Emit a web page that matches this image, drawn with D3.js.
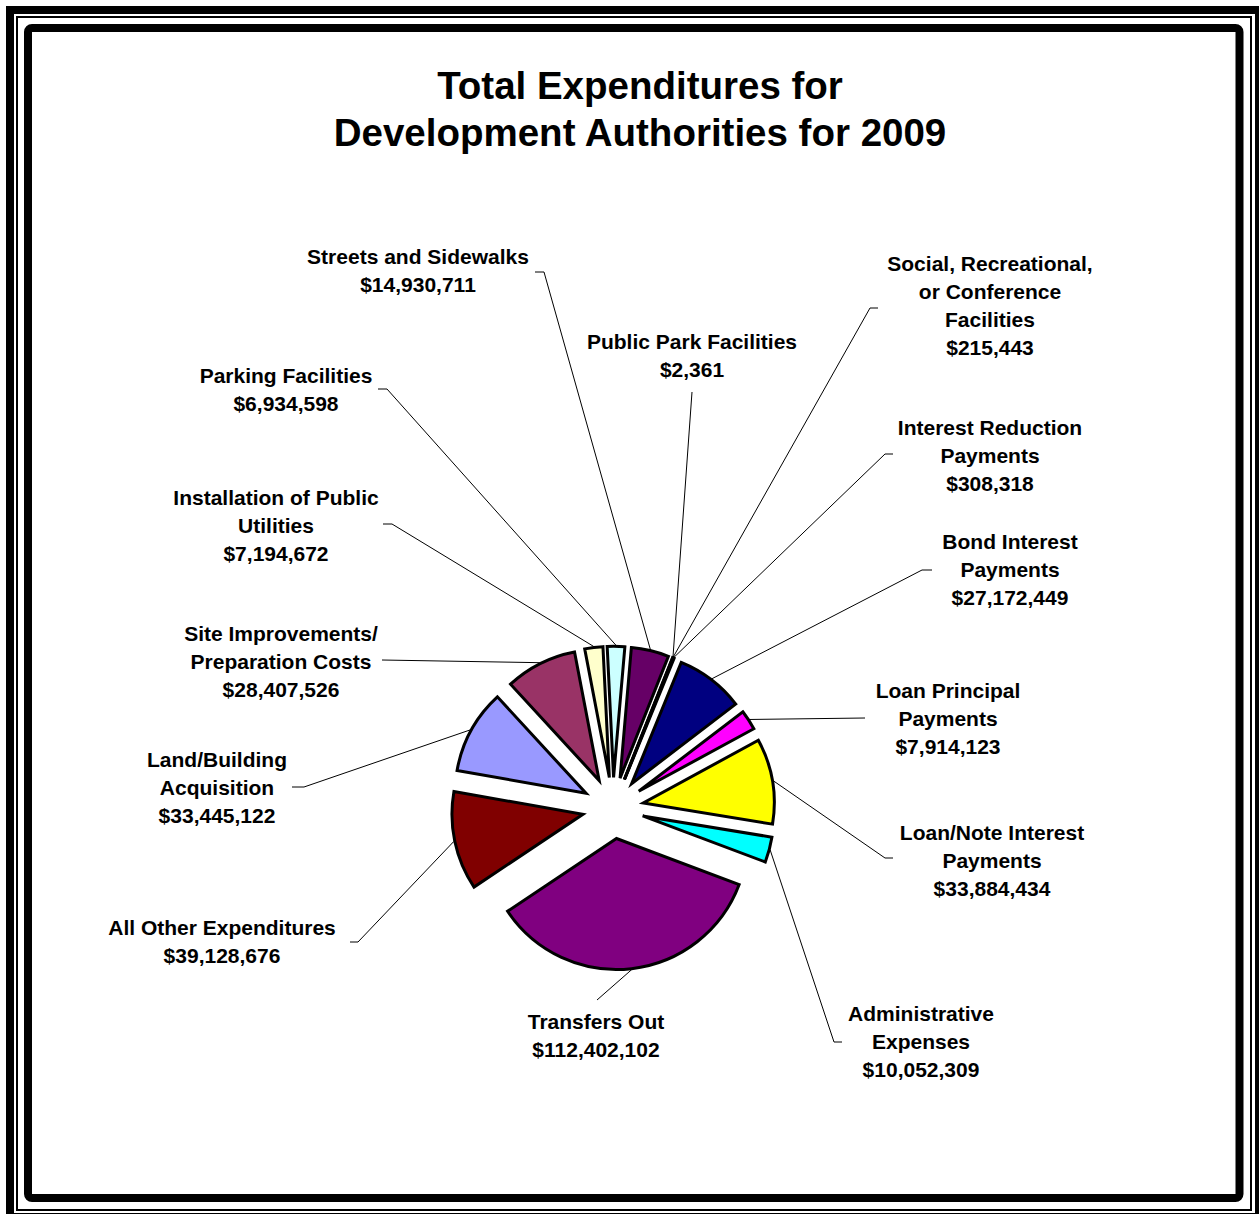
<!DOCTYPE html>
<html><head><meta charset="utf-8">
<script src="https://cdn.jsdelivr.net/npm/d3@7"></script>
<style>
html,body{margin:0;padding:0;background:#fff;}
svg{display:block;}
text{font-family:"Liberation Sans",Arial,sans-serif;font-weight:bold;fill:#000;}
</style>
</head><body>
<svg id="chart" width="1259" height="1214"></svg>
<script>
// Expenditure categories, in pie order (clockwise from the first slice)
const categories = [
  "Land/Building Acquisition",
  "Site Improvements/Preparation Costs",
  "Installation of Public Utilities",
  "Parking Facilities",
  "Streets and Sidewalks",
  "Public Park Facilities",
  "Social, Recreational, or Conference Facilities",
  "Interest Reduction Payments",
  "Bond Interest Payments",
  "Loan Principal Payments",
  "Loan/Note Interest Payments",
  "Administrative Expenses",
  "Transfers Out",
  "All Other Expenditures"
];
const values = [33445122, 28407526, 7194672, 6934598, 14930711, 2361, 215443, 308318,
                27172449, 7914123, 33884434, 10052309, 112402102, 39128676];
const sliceColors = ["#9999FF", "#993366", "#FFFFCC", "#CCFFFF", "#660066", "#FF8080", "#0066CC",
                     "#CCCCFF", "#000080", "#FF00FF", "#FFFF00", "#00FFFF", "#800080", "#800000"];
// Category names as wrapped on the data labels
const nameLines = [
  ["Land/Building", "Acquisition"],
  ["Site Improvements/", "Preparation Costs"],
  ["Installation of Public", "Utilities"],
  ["Parking Facilities"],
  ["Streets and Sidewalks"],
  ["Public Park Facilities"],
  ["Social, Recreational,", "or Conference", "Facilities"],
  ["Interest Reduction", "Payments"],
  ["Bond Interest", "Payments"],
  ["Loan Principal", "Payments"],
  ["Loan/Note Interest", "Payments"],
  ["Administrative", "Expenses"],
  ["Transfers Out"],
  ["All Other Expenditures"]
];
const titleLines = ["Total Expenditures for", "Development Authorities for 2009"];

// Label placement: text centre x, first baseline y, leader anchor and elbow length
const labelLayout = [
  {x: 217,  y: 767,  anchor: [292, 787],  elbow: 12},
  {x: 281,  y: 641,  anchor: [382, 660],  elbow: 0},
  {x: 276,  y: 505,  anchor: [383, 524],  elbow: 9},
  {x: 286,  y: 383,  anchor: [378, 389],  elbow: 9},
  {x: 418,  y: 264,  anchor: [535, 272],  elbow: 9},
  {x: 692,  y: 349,  anchor: [692, 392],  elbow: 0},
  {x: 990,  y: 271,  anchor: [878, 308],  elbow: -8},
  {x: 990,  y: 435,  anchor: [893, 454],  elbow: -8},
  {x: 1010, y: 549,  anchor: [932, 570],  elbow: -10},
  {x: 948,  y: 698,  anchor: [865, 718],  elbow: 0},
  {x: 992,  y: 840,  anchor: [893, 858],  elbow: -8},
  {x: 921,  y: 1021, anchor: [842, 1042], elbow: -8},
  {x: 596,  y: 1029, anchor: [597, 1000], elbow: 0},
  {x: 222,  y: 935,  anchor: [350, 942],  elbow: 8}
];

const svg = d3.select("#chart");
const fmt = d3.format("$,");

// Triple frame: heavy outer line, thin rule, heavy rounded inner line
svg.append("rect").attr("x", 10).attr("y", 10).attr("width", 1249).attr("height", 1207)
  .attr("fill", "none").attr("stroke", "#000").attr("stroke-width", 8);
svg.append("rect").attr("x", 17).attr("y", 17).attr("width", 1234).attr("height", 1193)
  .attr("fill", "none").attr("stroke", "#000").attr("stroke-width", 2);
svg.append("rect").attr("x", 28).attr("y", 28).attr("width", 1211.5).attr("height", 1170)
  .attr("rx", 4).attr("fill", "#fff").attr("stroke", "#000").attr("stroke-width", 8);

// Title
svg.append("g").selectAll("text").data(titleLines).join("text")
  .attr("x", 640).attr("y", (d, i) => 99 + i * 47)
  .attr("text-anchor", "middle").attr("font-size", 38.5)
  .text(d => d);

// Exploded pie
const cx = 613, cy = 808, R = 131, explode = 30.7;
const deg = Math.PI / 180;
const pie = d3.pie().value(d => d).sort(null)
  .startAngle(280 * deg).endAngle(640 * deg);
const arc = d3.arc().innerRadius(0).outerRadius(R);
const arcs = pie(values);
const mid = a => (a.startAngle + a.endAngle) / 2;

const gPie = svg.append("g").attr("transform", `translate(${cx},${cy})`);
gPie.selectAll("path").data(arcs).join("path")
  .attr("transform", a => `translate(${explode * Math.sin(mid(a))},${-explode * Math.cos(mid(a))})`)
  .attr("d", arc)
  .attr("fill", (a, i) => sliceColors[i])
  .attr("stroke", "#000").attr("stroke-width", 3).attr("stroke-linejoin", "miter");

// Leader lines from each label to the middle of its slice's outer edge
const gLead = svg.append("g");
arcs.forEach((a, i) => {
  const L = labelLayout[i];
  const m = mid(a);
  const ex = cx + (explode + R + 1) * Math.sin(m);
  const ey = cy - (explode + R + 1) * Math.cos(m);
  const pts = [L.anchor];
  if (L.elbow !== 0) pts.push([L.anchor[0] + L.elbow, L.anchor[1]]);
  pts.push([ex, ey]);
  gLead.append("path").attr("d", d3.line()(pts))
    .attr("fill", "none").attr("stroke", "#000").attr("stroke-width", 1);
});

// Data labels: category name and dollar value
const gLab = svg.append("g");
arcs.forEach((a, i) => {
  const L = labelLayout[i];
  const lines = nameLines[i].concat([fmt(values[i])]);
  const t = gLab.append("text").attr("text-anchor", "middle").attr("font-size", 21);
  lines.forEach((s, k) => {
    t.append("tspan").attr("x", L.x).attr("y", L.y + k * 28).text(s);
  });
});
</script>
</body></html>
